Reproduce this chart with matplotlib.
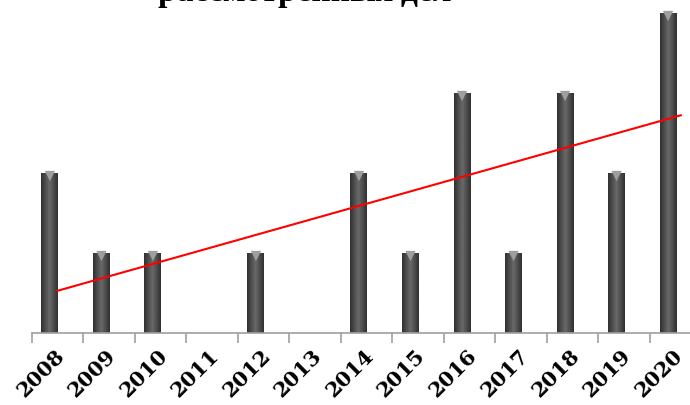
import numpy as np
import matplotlib
matplotlib.use('Agg')
import matplotlib.pyplot as plt
import matplotlib.transforms as mtrans
from matplotlib.patches import Rectangle

# data
years = ['2008', '2009', '2010', '2011', '2012', '2013', '2014',
         '2015', '2016', '2017', '2018', '2019', '2020']
cases = [2, 1, 1, 0, 1, 0, 2, 1, 3, 1, 3, 2, 4]
title_text = 'рассмотренных дел'

fig = plt.figure(figsize=(6.9, 4.05), dpi=100)
ax = fig.add_axes([31.7/690, 72/405, 1 - 31.7/690, 333/405])

xc = np.arange(len(years))
xb = xc - 0.146   # bars sit a bit left of the category centre (3D look)
bw = 0.33

# bars with a horizontal gradient (dark edges, lighter middle)
grad = np.concatenate([np.linspace(0.2, 0.4, 8), np.linspace(0.4, 0.2, 8)])
grad = np.tile(grad, (2, 1))
for x, h in zip(xb, cases):
    if h <= 0:
        continue
    rect = Rectangle((x - bw/2, 0), bw, h, facecolor='none', edgecolor='none')
    ax.add_patch(rect)
    im = ax.imshow(grad, cmap='gray', vmin=0, vmax=1, aspect='auto',
                   extent=(x - bw/2, x + bw/2, 0, h), interpolation='bilinear', zorder=2)
    im.set_clip_path(rect)

# light bevel triangle on top of each bar
tri_off = mtrans.ScaledTranslation(0, -3/100, fig.dpi_scale_trans)
hx = [x for x, h in zip(xb, cases) if h > 0]
hy = [h for h in cases if h > 0]
ax.scatter(hx, hy, marker='v', s=55, color='#9e9e9e', edgecolor='none',
           transform=ax.transData + tri_off, zorder=3)

# linear trend
k, b = np.polyfit(xc, cases, 1)
xt = np.array([xc[0], xc[-1] + 0.1])
ax.plot(xt, k*xt + b, color='#ff0000', linewidth=1.5, zorder=4)

ax.set_xlim(-0.5, 12.28)
ax.set_ylim(0, 4.1625)

for s in ['top', 'right', 'left']:
    ax.spines[s].set_visible(False)
ax.spines['bottom'].set_color('#a0a0a0')
ax.spines['bottom'].set_linewidth(1.2)
ax.set_yticks([])

ax.set_xticks(xc - 0.5, minor=True)
ax.tick_params(axis='x', which='minor', length=7, width=1.2, color='#a0a0a0')
ax.set_xticks(xc - 0.06)
ax.set_xticklabels(years, rotation=45, ha='right', va='top', rotation_mode='anchor',
                   fontsize=15, fontweight='bold', family='DejaVu Serif')
ax.tick_params(axis='x', which='major', length=0, pad=9)

fig.text(305/690, 1 - 1/405, title_text, ha='center', va='baseline',
         fontsize=24, fontweight='bold', family='Liberation Serif')

plt.savefig('out.png', dpi=100)
